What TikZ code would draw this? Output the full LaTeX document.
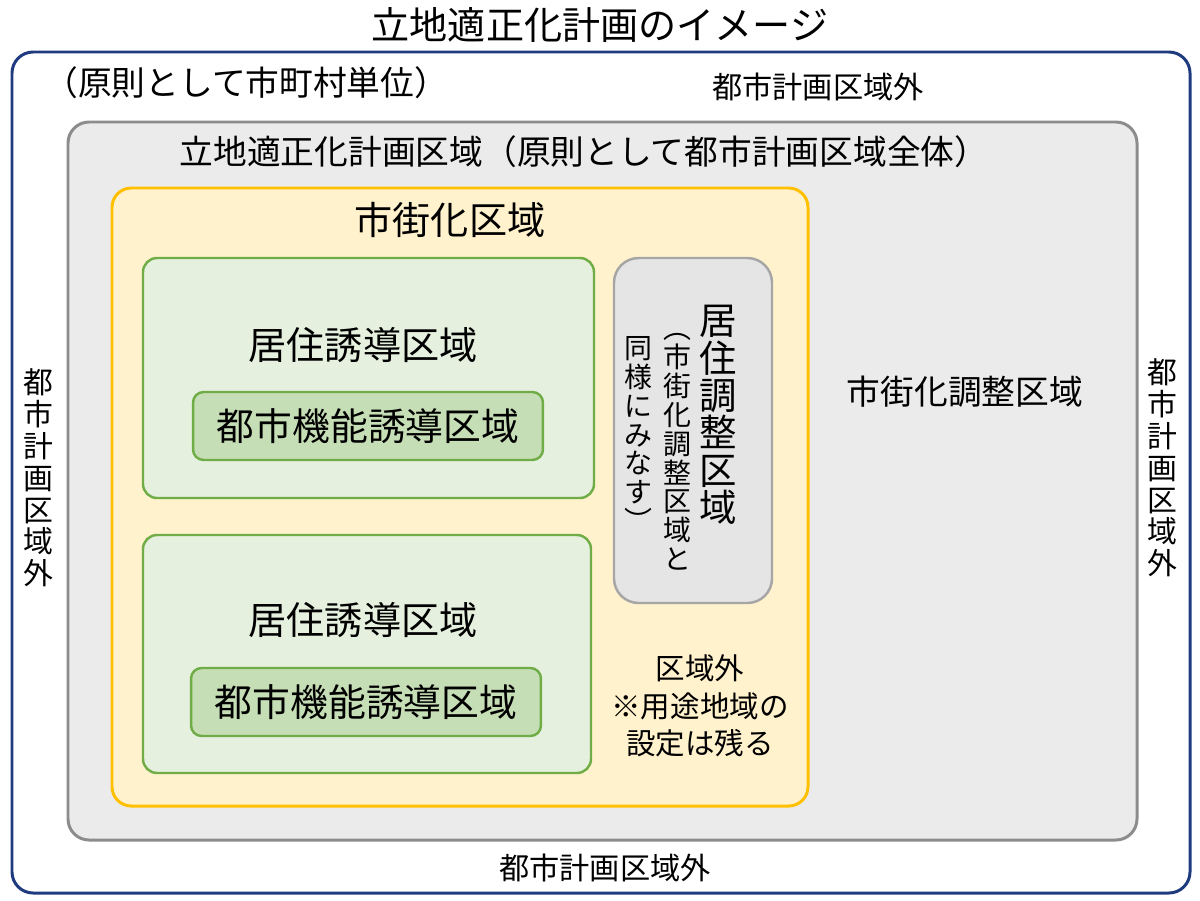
\documentclass[tikz,border=0pt]{standalone}
\usepackage{fontspec}
\setmainfont{Noto Sans CJK JP}
\usetikzlibrary{fit, positioning}

\definecolor{navy}{HTML}{1F3B7F}
\definecolor{gold}{HTML}{FFC000}
\definecolor{cream}{HTML}{FFF2CC}
\definecolor{leaf}{HTML}{70AD47}

\begin{document}
\begin{tikzpicture}[
    x=0.02cm, y=-0.02cm,
    zone/.style={
        rectangle, inner sep=0pt,
        line width=1.7pt,
    },
    plan/.style={zone, draw=navy, fill=white, rounded corners=12pt},
    cpa/.style={zone, draw=black!45, fill=black!8, rounded corners=12pt},
    ura/.style={zone, draw=gold, fill=cream, rounded corners=11pt},
    res/.style={zone, draw=leaf, fill=leaf!18, rounded corners=8pt, line width=1.4pt},
    func/.style={zone, draw=leaf, fill=leaf!40, rounded corners=6pt, line width=1.4pt,
        minimum width=7cm, minimum height=1.36cm,
        font=\fontsize{21.5}{24}\selectfont},
    rca/.style={zone, draw=black!35, fill=black!10, rounded corners=14pt, line width=1.4pt},
    big/.style={font=\fontsize{21.7}{24}\selectfont, inner sep=0pt},
    mid/.style={font=\fontsize{19.2}{22}\selectfont, inner sep=0pt},
    small/.style={font=\fontsize{17.2}{20}\selectfont, inner sep=0pt},
    vsmall/.style={font=\fontsize{17}{18.1}\selectfont, align=center, inner sep=0pt},
    vbig/.style={font=\fontsize{21.3}{21.3}\selectfont, align=center, inner sep=0pt},
    vtiny/.style={font=\fontsize{15.9}{16.4}\selectfont, align=center, inner sep=0pt},
    note/.style={font=\fontsize{16.8}{21.5}\selectfont, align=center, inner sep=0pt},
]
\useasboundingbox (0,0) rectangle (1200,900);

% === Title ===
\node[big] (title) at (600,25) {立地適正化計画のイメージ};

% === Nested areas ===
\node[plan, fit={(12,52) (1190,893)}] (plan) {};
\node[cpa, fit={(68,122) (1137,840)}] (cpa) {};
\node[ura, fit={(112,188) (808,806)}] (ura) {};
\node[res, fit={(143,258) (594,498)}] (res1) {};
\node[res, fit={(143,535) (591,773)}] (res2) {};
\node[rca, fit={(614,258) (772,603)}] (rca) {};

% Urban function areas
\node[func] (func1) at (368,426) {都市機能誘導区域};
\node[func] (func2) at (366,702) {都市機能誘導区域};

% === Area labels ===
\node[mid, anchor=west] (unit) at (44,83) {（原則として市町村単位）};
\node[small] (outN) at (818,87) {都市計画区域外};
\node[small] (outS) at (605,868) {都市計画区域外};
\node[vsmall] (outW) at (38,478) {都\\市\\計\\画\\区\\域\\外};
\node[vsmall] (outE) at (1162,468) {都\\市\\計\\画\\区\\域\\外};

\node[mid] (cpaT) at (584,152) {立地適正化計画区域（原則として都市計画区域全体）};
\node[big] (uraT) at (450,220) {市街化区域};
\node[big] (res1T) at (363,345) {居住誘導区域};
\node[big] (res2T) at (363,620) {居住誘導区域};
\node[mid] (ucaT) at (965,392) {市街化調整区域};

% Residential adjustment area (vertical)
\node[vbig] (rcaA) at (718,415) {居\\住\\調\\整\\区\\域};
\node[vtiny] (rcaB) at (677,452) {︵\\市\\街\\化\\調\\整\\区\\域\\と};
\node[vtiny] (rcaC) at (638,434) {同\\様\\に\\み\\な\\す\\︶};

% Note under the adjustment area
\node[note] (noteT) at (700,706) {区域外\\※用途地域の\\設定は残る};

\end{tikzpicture}
\end{document}
